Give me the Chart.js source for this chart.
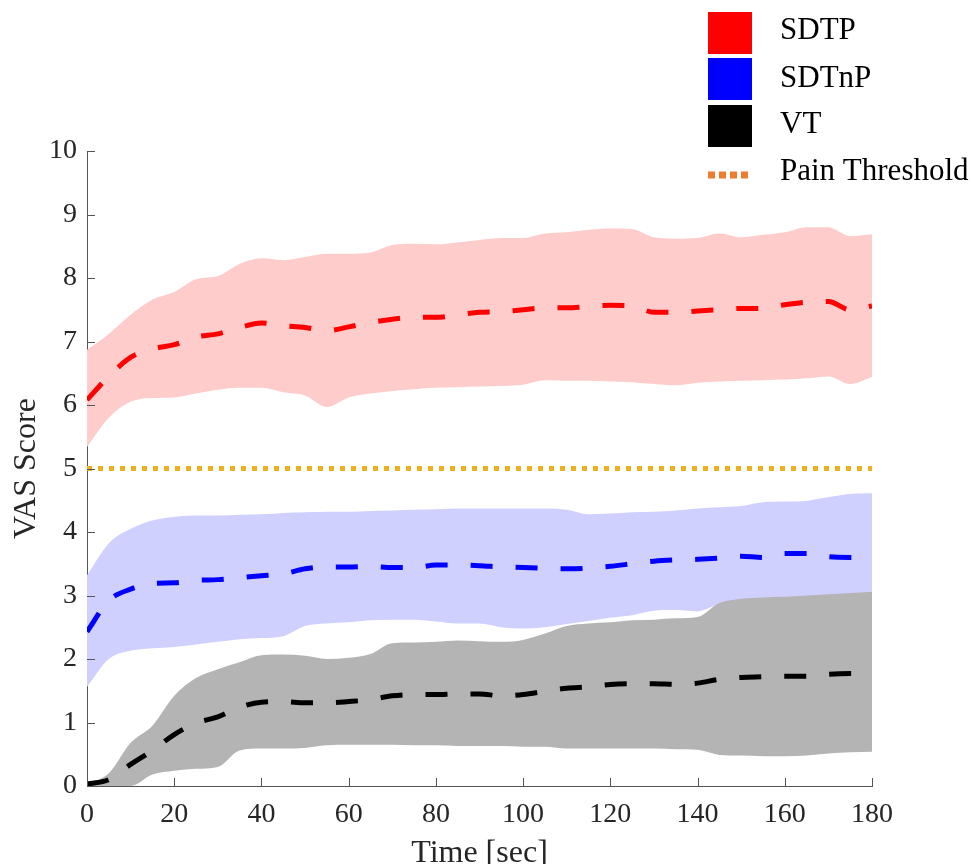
<!DOCTYPE html>
<html lang="en">
<head>
<meta charset="UTF-8">
<title>VAS Score over time</title>
<script src="https://cdn.jsdelivr.net/npm/chart.js"></script>
<style>
    html, body { margin: 0; padding: 0; background: #fff; }
    #vasChart { display: block; }
</style>
</head>
<body>
<canvas id="vasChart" width="975" height="864"></canvas>
<script>
// time (sec), one sample every 5 s
const times = [0, 5, 10, 15, 20, 25, 30, 35, 40, 45, 50, 55, 60, 65, 70, 75, 80, 85, 90,
               95, 100, 105, 110, 115, 120, 125, 130, 135, 140, 145, 150, 155, 160, 165, 170, 175, 180];

// SDTP : mean and band
const sdtpMean  = [6.08, 6.45, 6.75, 6.88, 6.95, 7.07, 7.12, 7.22, 7.29, 7.25, 7.22, 7.17, 7.23, 7.30, 7.35, 7.38, 7.38, 7.42, 7.46,
                   7.47, 7.50, 7.53, 7.53, 7.55, 7.57, 7.56, 7.46, 7.46, 7.48, 7.50, 7.52, 7.52, 7.58, 7.62, 7.63, 7.50, 7.56];
const sdtpUpper = [6.87, 7.12, 7.42, 7.66, 7.78, 7.98, 8.03, 8.22, 8.31, 8.28, 8.33, 8.38, 8.38, 8.40, 8.52, 8.54, 8.53, 8.56, 8.60,
                   8.63, 8.63, 8.70, 8.72, 8.76, 8.78, 8.77, 8.64, 8.62, 8.63, 8.70, 8.64, 8.68, 8.72, 8.80, 8.80, 8.66, 8.69];
const sdtpLower = [5.34, 5.80, 6.05, 6.11, 6.12, 6.18, 6.24, 6.27, 6.27, 6.20, 6.15, 5.97, 6.12, 6.18, 6.22, 6.25, 6.27, 6.28, 6.29,
                   6.30, 6.32, 6.39, 6.38, 6.38, 6.37, 6.36, 6.33, 6.31, 6.35, 6.37, 6.38, 6.39, 6.40, 6.42, 6.45, 6.33, 6.44];

// SDTnP
const sdtnpMean  = [2.43, 2.92, 3.10, 3.19, 3.20, 3.24, 3.25, 3.28, 3.31, 3.34, 3.42, 3.45, 3.45, 3.46, 3.44, 3.44, 3.48, 3.48, 3.47,
                    3.45, 3.44, 3.43, 3.42, 3.43, 3.46, 3.50, 3.54, 3.56, 3.57, 3.59, 3.62, 3.60, 3.66, 3.66, 3.61, 3.60, 3.60];
const sdtnpUpper = [3.32, 3.82, 4.05, 4.18, 4.24, 4.26, 4.26, 4.27, 4.28, 4.30, 4.31, 4.32, 4.32, 4.33, 4.34, 4.35, 4.36, 4.37, 4.37,
                    4.37, 4.37, 4.37, 4.35, 4.28, 4.29, 4.31, 4.32, 4.34, 4.37, 4.39, 4.41, 4.47, 4.48, 4.49, 4.55, 4.60, 4.61];
const sdtnpLower = [1.56, 2.00, 2.13, 2.17, 2.19, 2.23, 2.27, 2.31, 2.33, 2.36, 2.52, 2.56, 2.58, 2.61, 2.62, 2.62, 2.59, 2.56, 2.56,
                    2.50, 2.48, 2.50, 2.55, 2.60, 2.65, 2.69, 2.76, 2.77, 2.75, 2.85, 2.80, 2.80, 2.80, 2.76, 2.62, 2.62, 2.62];

// VT
const vtMean  = [0.03, 0.10, 0.34, 0.56, 0.81, 0.99, 1.09, 1.24, 1.32, 1.33, 1.31, 1.31, 1.33, 1.36, 1.42, 1.44, 1.44, 1.45, 1.45,
                 1.42, 1.44, 1.49, 1.54, 1.56, 1.60, 1.61, 1.61, 1.60, 1.62, 1.68, 1.71, 1.72, 1.73, 1.73, 1.76, 1.77, 1.77];
const vtUpper = [0.03, 0.20, 0.68, 0.95, 1.42, 1.70, 1.84, 1.95, 2.06, 2.07, 2.05, 2.00, 2.02, 2.08, 2.25, 2.26, 2.27, 2.29, 2.28,
                 2.27, 2.30, 2.40, 2.52, 2.56, 2.58, 2.61, 2.62, 2.64, 2.66, 2.88, 2.95, 2.97, 2.98, 3.00, 3.02, 3.04, 3.06];
const vtLower = [0.00, 0.00, 0.00, 0.18, 0.24, 0.27, 0.30, 0.56, 0.59, 0.59, 0.60, 0.64, 0.65, 0.65, 0.65, 0.64, 0.64, 0.63, 0.63,
                 0.63, 0.62, 0.62, 0.59, 0.59, 0.59, 0.59, 0.59, 0.58, 0.57, 0.49, 0.48, 0.47, 0.47, 0.48, 0.51, 0.53, 0.54];

const painThreshold = 5;

const xTicks = [0, 20, 40, 60, 80, 100, 120, 140, 160, 180];
const yTicks = [0, 1, 2, 3, 4, 5, 6, 7, 8, 9, 10];

const legendLabels = ['SDTP', 'SDTnP', 'VT', 'Pain Threshold'];

const SERIF = '"Liberation Serif", "Times New Roman", serif';

const pts = (vals) => vals.map((v, i) => ({ x: times[i], y: v }));

function meanLine(label, vals, color) {
    return {
        label: label, data: pts(vals), borderColor: color, borderWidth: 5,
        borderDash: [22, 23], borderCapStyle: 'butt', pointRadius: 0,
        cubicInterpolationMode: 'monotone', fill: false, order: 0
    };
}
function bandEdge(label, vals, fillColor, isUpper, order) {
    return {
        label: label, data: pts(vals), borderWidth: 0, borderColor: 'rgba(0,0,0,0)',
        backgroundColor: fillColor, pointRadius: 0, cubicInterpolationMode: 'monotone',
        fill: isUpper ? '+1' : false, order: order
    };
}

// inward tick marks (MATLAB style) + legend block in the top-right corner
const decorPlugin = {
    id: 'decor',
    afterDraw: (chart) => {
        const ctx = chart.ctx;
        const xs = chart.scales.x, ys = chart.scales.y;
        const area = chart.chartArea;
        ctx.save();
        ctx.strokeStyle = '#555';
        ctx.lineWidth = 1;
        yTicks.forEach(v => {
            const py = Math.round(ys.getPixelForValue(v)) + 0.5;
            ctx.beginPath();
            ctx.moveTo(area.left, py);
            ctx.lineTo(area.left + 8, py);
            ctx.stroke();
        });
        xTicks.forEach(v => {
            const px = Math.round(xs.getPixelForValue(v)) + 0.5;
            ctx.beginPath();
            ctx.moveTo(px, area.bottom);
            ctx.lineTo(px, area.bottom - 8);
            ctx.stroke();
        });

        // legend
        const boxColors = ['#ff0000', '#0000ff', '#000000'];
        const boxTops = [12, 58, 105];
        const baselines = [39, 87, 133, 180];
        boxColors.forEach((c, i) => {
            ctx.fillStyle = c;
            ctx.fillRect(708, boxTops[i], 44, 42);
        });
        ctx.strokeStyle = '#ED7D31';
        ctx.lineWidth = 7;
        ctx.setLineDash([7, 4]);
        ctx.beginPath();
        ctx.moveTo(708, 175);
        ctx.lineTo(752, 175);
        ctx.stroke();
        ctx.setLineDash([]);
        ctx.fillStyle = '#000';
        ctx.font = '31px ' + SERIF;
        ctx.textAlign = 'left';
        ctx.textBaseline = 'alphabetic';
        legendLabels.forEach((t, i) => ctx.fillText(t, 780, baselines[i]));
        ctx.restore();
    }
};

const ctx = document.getElementById('vasChart').getContext('2d');
const vasChart = new Chart(ctx, {
    type: 'line',
    data: {
        datasets: [
            meanLine('SDTP', sdtpMean, '#ff0000'),
            meanLine('SDTnP', sdtnpMean, '#0000ff'),
            meanLine('VT', vtMean, '#000000'),
            {
                label: 'Pain Threshold', data: times.map(t => ({ x: t, y: painThreshold })),
                borderColor: '#EDB120', borderWidth: 5, borderDash: [5, 6], borderCapStyle: 'butt',
                pointRadius: 0, fill: false, order: 1
            },
            bandEdge('VT upper', vtUpper, '#b4b4b4', true, 2),
            bandEdge('VT lower', vtLower, '#b4b4b4', false, 2),
            bandEdge('SDTnP upper', sdtnpUpper, '#d0d0ff', true, 3),
            bandEdge('SDTnP lower', sdtnpLower, '#d0d0ff', false, 3),
            bandEdge('SDTP upper', sdtpUpper, '#ffcccc', true, 4),
            bandEdge('SDTP lower', sdtpLower, '#ffcccc', false, 4)
        ]
    },
    options: {
        responsive: false,
        animation: false,
        layout: { padding: { top: 151, right: 103, left: 0, bottom: 0 } },
        plugins: {
            legend: { display: false },
            tooltip: { enabled: false }
        },
        scales: {
            x: {
                type: 'linear', min: 0, max: 180,
                afterBuildTicks: (s) => { s.ticks = xTicks.map(v => ({ value: v })); },
                afterFit: (s) => { s.height = 78; },
                grid: { display: false, drawTicks: false },
                border: { display: true, color: '#555', width: 1 },
                ticks: { padding: 12, maxRotation: 0, color: '#262626', font: { family: SERIF, size: 28 } },
                title: { display: true, text: 'Time [sec]', color: '#262626', padding: { top: 0, bottom: -6 },
                         font: { family: SERIF, size: 32, lineHeight: 1 } }
            },
            y: {
                min: 0, max: 10,
                afterBuildTicks: (s) => { s.ticks = yTicks.map(v => ({ value: v })); },
                afterFit: (s) => { s.width = 87; },
                grid: { display: false, drawTicks: false },
                border: { display: true, color: '#555', width: 1 },
                ticks: { padding: 10, color: '#262626', font: { family: SERIF, size: 28 } },
                title: { display: true, text: 'VAS Score', color: '#262626', padding: { top: 11, bottom: 0 },
                         font: { family: SERIF, size: 32, lineHeight: 1 } }
            }
        }
    },
    plugins: [decorPlugin]
});
</script>
</body>
</html>
